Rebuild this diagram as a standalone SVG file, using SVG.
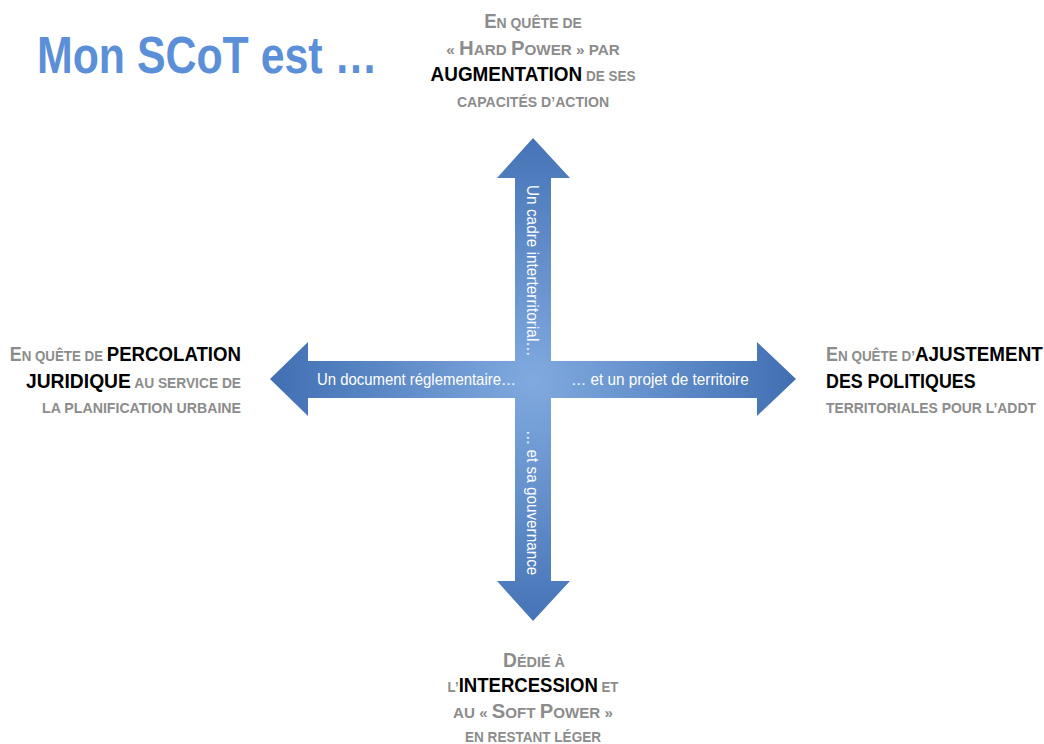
<svg xmlns="http://www.w3.org/2000/svg" width="1044" height="744" viewBox="0 0 1044 744">
<defs>
<radialGradient id="g" gradientUnits="userSpaceOnUse" cx="533" cy="380" r="270">
<stop offset="0" stop-color="#80aadf"/>
<stop offset="1" stop-color="#3f6db1"/>
</radialGradient>
<style>
.t{font-family:"Liberation Sans",Arial,sans-serif;font-weight:bold;fill:#8c8c8c}
.L{font-size:20px}
.s{font-size:15px}
.b{font-size:21px;fill:#000}
.w{font-family:"Liberation Sans",Arial,sans-serif;font-size:16px;fill:#fff}
</style>
</defs>
<rect width="1044" height="744" fill="#fff"/>
<text transform="translate(37,73) scale(0.82,1)" textLength="415" lengthAdjust="spacingAndGlyphs" style="font-family:'Liberation Sans',Arial,sans-serif;font-weight:bold;font-size:52px;fill:#5b8fd8">Mon SCoT est …</text>
<g id="connectors">
<path d="M533,138 L570,178 L551,178 L551,361 L757,361 L757,342 L796,379 L757,416 L757,398 L551,398 L551,581 L570,581 L533,621 L497,581 L515,581 L515,398 L308,398 L308,416 L270,379 L308,342 L308,361 L515,361 L515,178 L497,178 Z" fill="url(#g)"/>
<text class="w" transform="translate(317,385) scale(0.85,1)" textLength="234" lengthAdjust="spacingAndGlyphs">Un document réglementaire…</text>
<text class="w" transform="translate(571,385) scale(0.85,1)" textLength="209" lengthAdjust="spacingAndGlyphs">… et un projet de territoire</text>
<text class="w" transform="translate(527,185) rotate(90) scale(0.85,1)" textLength="202" lengthAdjust="spacingAndGlyphs">Un cadre interterritorial…</text>
<text class="w" transform="translate(527,430) rotate(90) scale(0.85,1)" textLength="171" lengthAdjust="spacingAndGlyphs">… et sa gouvernance</text>
</g>
<g id="top">
<text class="t" transform="translate(533,28) scale(0.85,1)" text-anchor="middle" textLength="115" lengthAdjust="spacingAndGlyphs"><tspan class="L">E</tspan><tspan class="s">N QUÊTE DE</tspan></text>
<text class="t" transform="translate(533,55) scale(0.85,1)" text-anchor="middle" textLength="204" lengthAdjust="spacingAndGlyphs"><tspan class="s">« </tspan><tspan class="L">H</tspan><tspan class="s">ARD </tspan><tspan class="L">P</tspan><tspan class="s">OWER » PAR</tspan></text>
<text class="t" transform="translate(533,81) scale(0.85,1)" text-anchor="middle" textLength="241" lengthAdjust="spacingAndGlyphs"><tspan class="b">AUGMENTATION</tspan><tspan class="s"> DE SES</tspan></text>
<text class="t" transform="translate(533,107) scale(0.85,1)" text-anchor="middle" textLength="179" lengthAdjust="spacingAndGlyphs"><tspan class="s">CAPACITÉS D’ACTION</tspan></text>
</g>
<g id="left">
<text class="t" transform="translate(241,361) scale(0.85,1)" text-anchor="end" textLength="272" lengthAdjust="spacingAndGlyphs"><tspan class="L">E</tspan><tspan class="s">N QUÊTE DE </tspan><tspan class="b">PERCOLATION</tspan></text>
<text class="t" transform="translate(241,388) scale(0.85,1)" text-anchor="end" textLength="253" lengthAdjust="spacingAndGlyphs"><tspan class="b">JURIDIQUE</tspan><tspan class="s"> AU SERVICE DE</tspan></text>
<text class="t" transform="translate(241,413) scale(0.85,1)" text-anchor="end" textLength="234" lengthAdjust="spacingAndGlyphs"><tspan class="s">LA PLANIFICATION URBAINE</tspan></text>
</g>
<g id="right">
<text class="t" transform="translate(826,361) scale(0.85,1)" textLength="255" lengthAdjust="spacingAndGlyphs"><tspan class="L">E</tspan><tspan class="s">N QUÊTE D’</tspan><tspan class="b">AJUSTEMENT</tspan></text>
<text class="t" transform="translate(826,388) scale(0.85,1)" textLength="176" lengthAdjust="spacingAndGlyphs"><tspan class="b">DES POLITIQUES</tspan></text>
<text class="t" transform="translate(826,413) scale(0.85,1)" textLength="247" lengthAdjust="spacingAndGlyphs"><tspan class="s">TERRITORIALES POUR L’ADDT</tspan></text>
</g>
<g id="bottom">
<text class="t" transform="translate(534,667) scale(0.85,1)" text-anchor="middle" textLength="73" lengthAdjust="spacingAndGlyphs"><tspan class="L">D</tspan><tspan class="s">ÉDIÉ À</tspan></text>
<text class="t" transform="translate(533,692) scale(0.85,1)" text-anchor="middle" textLength="201" lengthAdjust="spacingAndGlyphs"><tspan class="s">L’</tspan><tspan class="b">INTERCESSION</tspan><tspan class="s"> ET</tspan></text>
<text class="t" transform="translate(533,718) scale(0.85,1)" text-anchor="middle" textLength="188" lengthAdjust="spacingAndGlyphs"><tspan class="s">AU « </tspan><tspan class="L">S</tspan><tspan class="s">OFT </tspan><tspan class="L">P</tspan><tspan class="s">OWER »</tspan></text>
<text class="t" transform="translate(533,742) scale(0.85,1)" text-anchor="middle" textLength="160" lengthAdjust="spacingAndGlyphs"><tspan class="s">EN RESTANT LÉGER</tspan></text>
</g>
</svg>
